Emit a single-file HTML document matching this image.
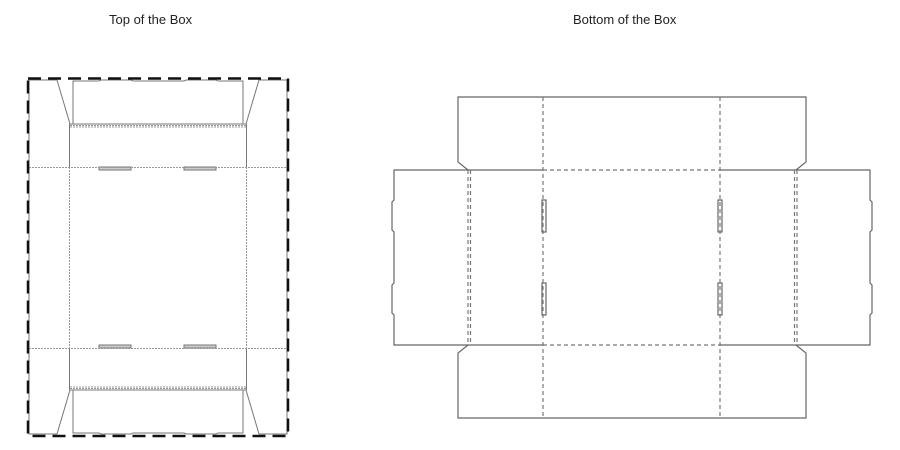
<!DOCTYPE html>
<html><head><meta charset="utf-8"><style>
html,body{margin:0;padding:0;background:#fff;width:900px;height:450px;overflow:hidden}
</style></head><body>
<svg width="900" height="450" xmlns="http://www.w3.org/2000/svg" style="display:block">
<g font-family="Liberation Sans, sans-serif" font-size="13" fill="#222">
<text x="109" y="24">Top of the Box</text>
<text x="573" y="24">Bottom of the Box</text>
</g>
<!-- LEFT: Top of the box -->
<g fill="none" stroke="#777" stroke-width="1">
<!-- outer solid thin -->
<path d="M29,80 L57,80 L70,124 L246,124 L259,80 L287,80 L287,434 L259,434 L246,390 L70,390 L57,434 L29,434 Z"/>
<!-- inner flaps -->
<path d="M73,124 L73,81 L99,81 L101,80 L131,80 L133,81 L184,81 L186,80 L216,80 L218,81 L243,81 L243,124"/>
<path d="M73,390 L73,433 L99,433 L101,434 L131,434 L133,433 L184,433 L186,434 L216,434 L218,433 L243,433 L243,390"/>
<!-- side lines -->
<line x1="69.5" y1="124" x2="69.5" y2="167"/>
<line x1="246.5" y1="124" x2="246.5" y2="167"/>
<line x1="69.5" y1="348" x2="69.5" y2="390"/>
<line x1="246.5" y1="348" x2="246.5" y2="390"/>
<!-- tabs -->
<rect x="99" y="167" width="32" height="3" fill="#ccc"/>
<rect x="184" y="167" width="32" height="3" fill="#ccc"/>
<rect x="99" y="345" width="32" height="3" fill="#ccc"/>
<rect x="184" y="345" width="32" height="3" fill="#ccc"/>
</g>
<g fill="none" stroke="#999" stroke-width="1" stroke-dasharray="2,1">
<line x1="70" y1="125.5" x2="246" y2="125.5"/>
<line x1="70" y1="127" x2="246" y2="127"/>
<line x1="70" y1="388.5" x2="246" y2="388.5"/>
<line x1="70" y1="387" x2="246" y2="387"/>
<line x1="29" y1="167.5" x2="287" y2="167.5"/>
<line x1="29" y1="348.5" x2="287" y2="348.5"/>
<line x1="69.5" y1="167" x2="69.5" y2="348"/>
<line x1="246.5" y1="167" x2="246.5" y2="348"/>
</g>
<rect x="28" y="78.5" width="260" height="357.5" fill="none" stroke="#111" stroke-width="2.5" stroke-dasharray="13,7"/>

<!-- RIGHT: Bottom of the box -->
<g fill="none" stroke="#666" stroke-width="1.2">
<!-- top flap -->
<path d="M468,170 L458,162 L458,97 L806,97 L806,162 L796,170"/>
<!-- bottom flap -->
<path d="M468,345 L458,353 L458,418 L806,418 L806,353 L796,345"/>
<!-- main body top/bottom solid parts -->
<line x1="468" y1="170" x2="543" y2="170"/>
<line x1="720" y1="170" x2="796" y2="170"/>
<line x1="468" y1="345" x2="543" y2="345"/>
<line x1="720" y1="345" x2="796" y2="345"/>
<!-- left side panel -->
<path d="M468,170 L394,170 L394,200 L392,202 L392,230 L394,232 L394,283 L392,285 L392,313 L394,315 L394,345 L468,345"/>
<!-- right side panel -->
<path d="M796,170 L870,170 L870,200 L872,202 L872,230 L870,232 L870,283 L872,285 L872,313 L870,315 L870,345 L796,345"/>
<!-- tabs -->
<rect x="542" y="200" width="4" height="32"/>
<rect x="542" y="283" width="4" height="32"/>
<rect x="718" y="200" width="4" height="32"/>
<rect x="718" y="283" width="4" height="32"/>
</g>
<g fill="none" stroke="#777" stroke-width="1.2" stroke-dasharray="4,3">
<line x1="543" y1="97" x2="543" y2="418"/>
<line x1="720" y1="97" x2="720" y2="418"/>
<line x1="543" y1="170" x2="720" y2="170"/>
<line x1="543" y1="345" x2="720" y2="345"/>
<line x1="468" y1="170" x2="468" y2="345"/>
<line x1="470.5" y1="170" x2="470.5" y2="345"/>
<line x1="794.5" y1="170" x2="794.5" y2="345"/>
<line x1="797" y1="170" x2="797" y2="345"/>
</g>
</svg>
</body></html>
